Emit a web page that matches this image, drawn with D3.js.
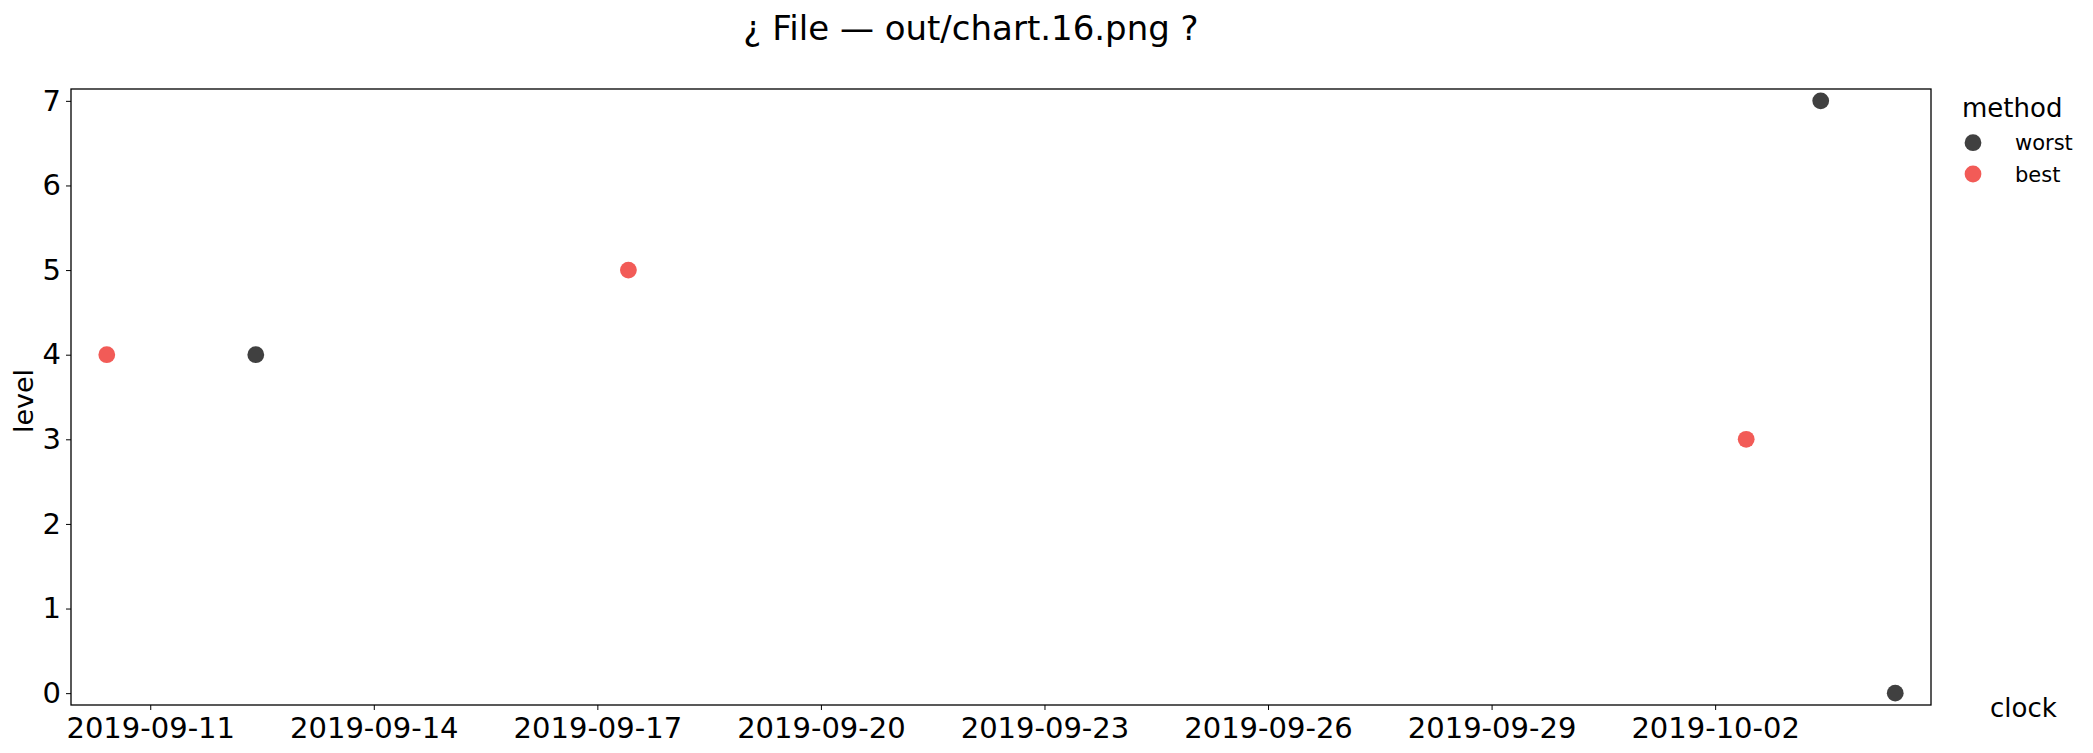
<!DOCTYPE html>
<html>
<head>
<meta charset="utf-8">
<script src="https://cdn.jsdelivr.net/npm/d3@7"></script>
<style>
  html, body { margin: 0; padding: 0; background: #fff; }
  svg { display: block; font-family: "DejaVu Sans", sans-serif; }
</style>
</head>
<body>
<svg id="chart" width="2093" height="753"></svg>
<script>
// ---- data ----
const worstDates = ["2019-09-12T10:00", "2019-10-03T10:00", "2019-10-04T10:00"];
const worstLevels = [4, 7, 0];
const bestDates = ["2019-09-10T10:00", "2019-09-17T10:00", "2019-10-02T10:00"];
const bestLevels = [4, 5, 3];
const seriesNames = ["worst", "best"];
const seriesColors = ["#404040", "#f25b57"];
const xTickLabels = ["2019-09-11", "2019-09-14", "2019-09-17", "2019-09-20", "2019-09-23", "2019-09-26", "2019-09-29", "2019-10-02"];
const yTickValues = [0, 1, 2, 3, 4, 5, 6, 7];
const titleText = "¿ File — out/chart.16.png ?";

// ---- layout ----
const W = 2093, H = 753;
const plot = { left: 71, right: 1931, top: 89, bottom: 705 };

const parseT = d3.timeParse("%Y-%m-%dT%H:%M");
const parseD = d3.timeParse("%Y-%m-%d");

const points = [];
worstDates.forEach((d, i) => points.push({ s: 0, date: parseT(d), v: worstLevels[i] }));
bestDates.forEach((d, i) => points.push({ s: 1, date: parseT(d), v: bestLevels[i] }));

const tExt = d3.extent(points, p => +p.date);
const tPad = (tExt[1] - tExt[0]) * 0.02;
const x = d3.scaleTime()
  .domain([new Date(tExt[0] - tPad), new Date(tExt[1] + tPad)])
  .range([plot.left, plot.right]);

const vExt = d3.extent(points, p => p.v);
const vPad = (vExt[1] - vExt[0]) * 0.02;
const y = d3.scaleLinear()
  .domain([vExt[0] - vPad, vExt[1] + vPad])
  .range([plot.bottom, plot.top]);

const svg = d3.select("#chart");
svg.append("rect").attr("width", W).attr("height", H).attr("fill", "#fff");

// title
svg.append("text")
  .attr("x", 971).attr("y", 40)
  .attr("text-anchor", "middle")
  .attr("font-size", 34)
  .attr("fill", "#000")
  .text(titleText);

// axes
const fmt = d3.timeFormat("%Y-%m-%d");
const xAxis = d3.axisBottom(x)
  .tickValues(xTickLabels.map(parseD))
  .tickFormat(fmt)
  .tickSize(5).tickPadding(7);
const gx = svg.append("g").attr("transform", `translate(0,${plot.bottom})`).call(xAxis);
gx.select(".domain").remove();
gx.selectAll("text").attr("font-size", 29).attr("fill", "#000").attr("font-family", "DejaVu Sans");
gx.selectAll("line").attr("stroke", "#000");

const yAxis = d3.axisLeft(y)
  .tickValues(yTickValues)
  .tickFormat(d3.format("d"))
  .tickSize(5).tickPadding(5);
const gy = svg.append("g").attr("transform", `translate(${plot.left},0)`).call(yAxis);
gy.select(".domain").remove();
gy.selectAll("text").attr("font-size", 29).attr("fill", "#000").attr("font-family", "DejaVu Sans");
gy.selectAll("line").attr("stroke", "#000");

// frame
svg.append("rect")
  .attr("x", plot.left).attr("y", plot.top)
  .attr("width", plot.right - plot.left).attr("height", plot.bottom - plot.top)
  .attr("fill", "none").attr("stroke", "#000").attr("stroke-width", 1.3);

// axis labels
svg.append("text")
  .attr("transform", `translate(33,${(plot.top + plot.bottom) / 2 + 4}) rotate(-90)`)
  .attr("text-anchor", "middle")
  .attr("font-size", 27)
  .attr("fill", "#000")
  .text("level");

svg.append("text")
  .attr("x", 1990).attr("y", 717)
  .attr("font-size", 26)
  .attr("fill", "#000")
  .text("clock");

// points
svg.append("g").selectAll("circle")
  .data(points)
  .join("circle")
  .attr("cx", p => x(p.date))
  .attr("cy", p => y(p.v))
  .attr("r", 8.4)
  .attr("fill", p => seriesColors[p.s]);

// legend
const lg = svg.append("g");
lg.append("text")
  .attr("x", 1962).attr("y", 117)
  .attr("font-size", 26)
  .attr("fill", "#000")
  .text("method");
seriesNames.forEach((name, i) => {
  const cy = 142.7 + i * 31.3;
  lg.append("circle").attr("cx", 1973).attr("cy", cy).attr("r", 8.4).attr("fill", seriesColors[i]);
  lg.append("text")
    .attr("x", 2015).attr("y", cy + 7.5)
    .attr("font-size", 21)
    .attr("fill", "#000")
    .text(name);
});
</script>
</body>
</html>
